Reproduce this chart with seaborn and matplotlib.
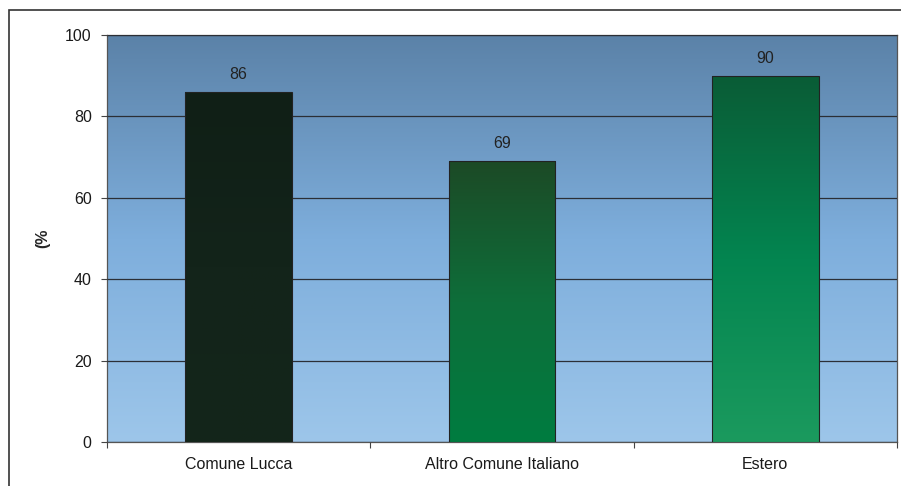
import numpy as np
import pandas as pd
import matplotlib
matplotlib.use('Agg')
import matplotlib.pyplot as plt
from matplotlib.colors import LinearSegmentedColormap
from matplotlib.patches import Rectangle
import seaborn as sns

# Data
categories = ['Comune Lucca', 'Altro Comune Italiano', 'Estero']
values = [86, 69, 90]
y_label = '(%'

# Gradient colours per bar (bottom -> top)
bar_gradients = [['#14261a', '#13241a', '#101f16'],
                 ['#007c40', '#0e6e3a', '#1c4a26'],
                 ['#1b9a5e', '#038550', '#0a5c36']]
bg_gradient = ['#9dc6ea', '#7eaedc', '#5b82a8']

df = pd.DataFrame({'cat': categories, 'val': values})

sns.set_theme(style='white')
plt.rcParams['font.family'] = ['Liberation Sans', 'DejaVu Sans']
font_size = 11.5

fig = plt.figure(figsize=(9.01, 4.86), dpi=100)
ax = fig.add_axes([107 / 901, 1 - 442 / 486, 790 / 901, 407 / 486])

sns.barplot(data=df, x='cat', y='val', ax=ax, width=0.405, color='#113322',
            edgecolor='#222222', linewidth=0.8, zorder=3)

ax.set_ylim(0, 100)
ax.set_xlim(-0.5, len(categories) - 0.5)

# background gradient
bg_cmap = LinearSegmentedColormap.from_list('bg', bg_gradient)
grad = np.linspace(0, 1, 256).reshape(-1, 1)
ax.imshow(grad, cmap=bg_cmap, aspect='auto', origin='lower',
          extent=[-0.5, len(categories) - 0.5, 0, 100], zorder=0)

# bar gradients
for patch, cols, v in zip(ax.patches, bar_gradients, values):
    x0 = patch.get_x()
    w = patch.get_width()
    cm = LinearSegmentedColormap.from_list('b', cols)
    im = ax.imshow(grad, cmap=cm, aspect='auto', origin='lower',
                   extent=[x0, x0 + w, 0, v], zorder=3.5)
    im.set_clip_path(patch)
    patch.set_facecolor('none')
    patch.set_zorder(4)
    ax.annotate(str(v), (x0 + w / 2, v), xytext=(0, 7), textcoords='offset points',
                ha='center', va='bottom', fontsize=font_size, color='#222222',
                zorder=5)

ax.set_yticks([0, 20, 40, 60, 80, 100])
ax.yaxis.grid(True, color='#2b2f36', linewidth=0.9, zorder=1)
ax.set_axisbelow(False)
for gl in ax.get_ygridlines():
    gl.set_zorder(1)

ax.set_xticks([-0.5, 0.5, 1.5, 2.5], minor=False)
ax.set_xticklabels([])
ax.set_xticks(range(len(categories)), minor=True)
ax.set_xticklabels(categories, minor=True, fontsize=font_size, color='#1a1a1a')
ax.tick_params(axis='x', which='minor', length=0, pad=11)
ax.tick_params(axis='x', which='major', length=4, width=0.8, color='#444444',
               direction='out', bottom=True)
ax.tick_params(axis='y', length=4, width=0.8, color='#444444', direction='out',
               left=True, labelsize=font_size, labelcolor='#1a1a1a', pad=7)

ax.set_xlabel('')
ax.set_ylabel(y_label, fontsize=font_size, fontweight='bold', labelpad=11)

for side in ['left', 'bottom', 'top', 'right']:
    ax.spines[side].set_visible(True)
    ax.spines[side].set_color('#555555')
    ax.spines[side].set_linewidth(0.9)
ax.spines['top'].set_color('#444444')

# outer figure frame
fig.patches.append(Rectangle((9 / 901, -0.1), 1.2, 0.1 + (1 - 10 / 486),
                             transform=fig.transFigure, fill=False,
                             edgecolor='#333333', linewidth=1.2))

fig.savefig('out.png', dpi=100)
